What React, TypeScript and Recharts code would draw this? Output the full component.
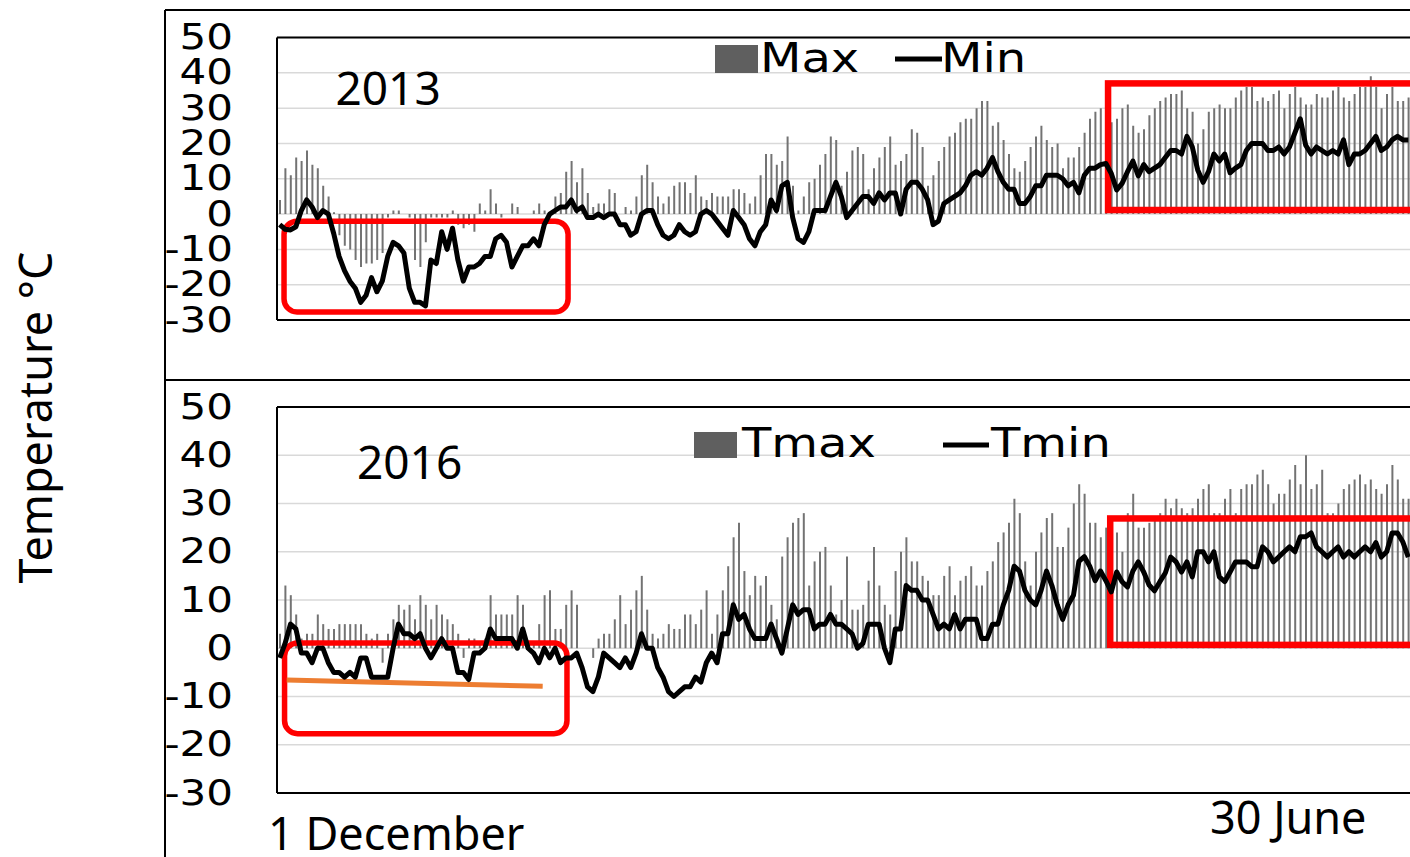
import React from 'react';
import { ComposedChart, Bar, Line, XAxis, YAxis, CartesianGrid, ReferenceLine, ReferenceArea } from 'recharts';

// Daily values from 1 December (index 0) onward
const max2013 = [
  4, 13, 11, 16, 15, 18, 14, 13, 8, 5,
  0.5, -6, -9, -10, -13, -15, -14, -14, -13, -11,
  -1, 1, 1, 0, -1, -13, -15, -8, -1, -1,
  -1, -1, 1, -3, -4, -3, -5, 3, 1, 7,
  3, -1, 0, 3, 2, 0, 0, 1, 3, 1,
  0.5, 5, 6, 12, 15, 9, 13, 6, 2, 3,
  3, 7, 6, 0, 2, 1, 5, 11, 14, 9,
  5, 3, 5, 8, 9, 9, 6, 11, 5, 4,
  6, 5, 5, 5, 7, 7, 6, 3, 5, 11,
  17, 17, 14, 15, 22, 8, 1, 5, 9, 10,
  14, 17, 22, 21, 8, 12, 18, 19, 17, 7,
  13, 16, 19, 22, 14, 15, 17, 24, 23, 19,
  8, 11, 15, 19, 22, 23, 26, 27, 27, 30,
  32, 32, 25, 26, 21, 17, 13, 12, 15, 19,
  22, 25, 21, 19, 20, 13, 16, 16, 19, 23,
  27, 29, 30, 30, 26, 27, 30, 31, 25, 23,
  24, 28, 30, 32, 33, 34, 34, 35, 30, 29,
  20, 24, 29, 30, 31, 30, 30, 33, 35, 36,
  36, 32, 33, 32, 34, 35, 30, 34, 36, 33,
  31, 31, 34, 33, 33, 35, 36, 33, 32, 34,
  36, 36, 39, 36, 30, 34, 36, 32, 32, 33,
];

const min2013 = [
  -3, -4.3, -4.5, -3.6, 1, 4, 2, -1, 1, 0,
  -5.5, -12, -16, -19, -21, -25, -23, -18, -22, -19,
  -12, -8, -9, -11, -21, -25, -25, -26, -13, -14,
  -5, -10, -4, -13, -19, -15, -15, -14, -12, -12,
  -7, -6, -8, -15, -12, -9, -9, -7, -9, -3,
  0, 1, 2, 2, 4, 1, 2, -1, -1, 0,
  -1, 0, 0, -3, -3, -6, -5, 0, 1, 1,
  -3, -6, -7, -6, -3, -5, -6, -5, 0, 1,
  0, -2, -4, -6, 1, -1, -3, -7, -9, -5,
  -3, 4, 1, 8, 9, -1, -7, -8, -5, 1,
  1, 1, 5, 9, 5, -1, 1, 3, 5, 5,
  3, 6, 4, 6, 6, 0, 7, 9, 9, 7,
  4, -3, -2, 3, 4, 5, 6, 8, 11, 12,
  11, 13, 16, 12, 9, 7, 7, 3, 3, 5,
  8, 8, 11, 11, 11, 10, 8, 9, 6, 11,
  13, 13, 14, 14.3, 11.5, 6.8, 8.7, 12, 15, 10.8,
  14, 12, 13, 14, 16, 18, 18, 17, 22, 19,
  12.5, 9, 12, 17, 15, 17, 11.7, 13, 14, 18,
  20, 20, 20, 18, 18, 19, 17, 19, 23, 27,
  19.5, 17, 19, 18, 17, 18, 17, 21, 14, 17,
  17, 18, 20, 22, 18, 19, 21, 22, 21, 21,
];

const tmax2016 = [
  3, 13, 11, 7, 2, 3, 3, 7, 5, 4,
  4, 5, 5, 5, 5, 5, 3, 2, 3, -3,
  3, 6, 9, 8, 9, 6, 11, 9, 6, 9,
  7, 6, 5, 3, -2, 2, 2, 1, 2, 11,
  7, 7, 7, 7, 11, 9, 1, 1, 5, 11,
  12, 4, 4, 9, 12, 9, 0, 0, -2, 2,
  3, 3, 6, 11, 5, 8, 12, 15, 8, 3,
  2, 3, 5, 4, 4, 7, 7, 5, 8, 12,
  3, 7, 12, 17, 23, 26, 16, 11, 15, 13,
  15, 9, 6, 19, 23, 26, 27, 28, 13, 18,
  20, 21, 13, 7, 10, 19, 8, 8, 9, 14,
  21, 13, 9, 7, 16, 20, 23, 18, 18, 15,
  14, 11, 11, 15, 17, 11, 14, 15, 17, 13,
  13, 16, 18, 22, 24, 26, 31, 28, 18, 13,
  20, 24, 27, 28, 21, 21, 25, 30, 34, 32,
  26, 26, 23, 25, 24, 24, 20, 28, 32, 25,
  25, 26, 27, 28, 31, 29, 31, 29, 28, 29,
  31, 33, 34, 28, 28, 31, 33, 28, 33, 34,
  34, 36, 37, 34, 30, 32, 32, 35, 38, 34,
  40, 33, 34, 37, 28, 28, 30, 33, 34, 35,
  36, 34, 35, 33, 32, 34, 38, 35, 31, 31,
];

const tmin2016 = [
  -2, 1, 5, 4, -1, -1, -3, 0, 0, -3,
  -5, -5, -6, -5, -6, -2, -2, -6, -6, -6,
  -6, 0, 5, 3, 3, 2, 3, 0, -2, 0,
  2, 0, 0, -5, -5, -6.5, -1, -1, 0, 4,
  2, 2, 2, 2, 0, 4, 0, -1, -3, 0,
  -2, 0, -3, -2, -2, -1, -4, -8, -9, -6,
  -1, -2, -3, -4, -2, -4, -1, 3, 0, 0,
  -4, -6, -9, -10, -9, -8, -8, -6, -7, -3,
  -1, -3, 3, 3, 9, 6, 7, 4, 2, 2,
  2, 5, 2, -1, 4, 9, 7, 8, 8, 4,
  5, 5, 7, 5, 5, 4, 3, 0, 1, 5,
  5, 5, 0, -3, 4, 4, 13, 12, 12, 10,
  10, 7, 4, 5, 4, 7, 4, 6, 6, 6,
  2, 2, 5, 5, 9, 12, 17, 16, 12, 10,
  9, 12, 16, 13, 9, 6, 9, 11, 18, 19,
  17, 14, 16, 14, 11.7, 15.8, 13.8, 12.7, 16, 17.9,
  15.8, 13.1, 11.9, 13.8, 15.6, 18.9, 17.9, 15.8, 17.9, 14.8,
  20, 20, 17.9, 20, 14.8, 13.8, 15.8, 17.9, 17.9, 17.9,
  16.9, 16.9, 21, 20, 17.9, 18.9, 20, 21, 20, 23.1,
  23.1, 23.9, 21, 20, 18.9, 20, 21, 18.9, 20, 18.9,
  20, 21, 20, 21.9, 18.9, 20, 23.9, 23.9, 22, 18.9,
];

const yTicks = [50, 40, 30, 20, 10, 0, -10, -20, -30];
const legend2013 = ['Max', 'Min'];
const legend2016 = ['Tmax', 'Tmin'];
const yearLabels = ['2013', '2016'];
const xLabels = ['1 December', '30 June'];
const yTitle = 'Temperature °C';

// Annotation boxes (data units: day index, °C)
const boxes2013 = [
  { x1: 0.8, x2: 53.4, y1: -27.7, y2: -2, r: 13, w: 5.5 },
  { x1: 153.4, x2: 215, y1: 1.15, y2: 37, r: 0, w: 6.5 },
];
const boxes2016 = [
  { x1: 0.9, x2: 53.2, y1: -17.7, y2: 1.1, r: 13, w: 5.5 },
  { x1: 153.8, x2: 215, y1: 0.7, y2: 26.9, r: 0, w: 6.5 },
];
const trend2016 = [
  { x: 1.3, y: -6.6 },
  { x: 48.7, y: -7.9 },
];

const rows2013 = max2013.map((v, i) => ({ day: i, hi: v, lo: min2013[i] }));
const rows2016 = tmax2016.map((v, i) => ({ day: i, hi: v, lo: tmin2016[i] }));

const TICK_FONT = "'DejaVu Sans', Verdana, sans-serif";
const TEXT_FONT = "'Noto Sans', 'Open Sans', sans-serif";

const YTick = (props: any) => {
  const { x, y, payload } = props;
  return (
    <text
      x={0}
      y={0}
      transform={`translate(${x},${y}) scale(1.2,1)`}
      textAnchor="end"
      dy="0.33em"
      fontFamily={TICK_FONT}
      fontSize={35}
      fill="#000"
    >
      {String(payload.value)}
    </text>
  );
};

const boxShape = (r: number, w: number) => (p: any) => (
  <rect
    x={p.x}
    y={p.y}
    width={p.width}
    height={p.height}
    rx={r}
    ry={r}
    fill="none"
    stroke="#ff0000"
    strokeWidth={w}
  />
);

type PanelProps = {
  data: any[];
  height: number;
  top: number;
  bottom: number;
  boxes: any[];
  trend?: any[];
};

const Panel = ({ data, height, top, bottom, boxes, trend }: PanelProps) => (
  <ComposedChart
    width={1460}
    height={height}
    data={data}
    margin={{ top, right: 16.6, bottom, left: 0 }}
  >
    <CartesianGrid vertical={false} stroke="#d9d9d9" strokeWidth={1.5} />
    <XAxis type="number" dataKey="day" domain={[-0.5, 215.5]} hide allowDataOverflow />
    <YAxis
      type="number"
      domain={[-30, 50]}
      ticks={yTicks}
      interval={0}
      width={277}
      tickSize={0}
      tickMargin={44}
      tickLine={false}
      axisLine={{ stroke: '#000', strokeWidth: 2 }}
      tick={<YTick />}
      allowDataOverflow
    />
    <ReferenceLine y={50} stroke="#000" strokeWidth={2} />
    <ReferenceLine y={-30} stroke="#000" strokeWidth={2} />
    <Bar dataKey="hi" barSize={2} fill="#737373" isAnimationActive={false} />
    {boxes.map((b, i) => (
      <ReferenceArea
        key={i}
        x1={b.x1}
        x2={b.x2}
        y1={b.y1}
        y2={b.y2}
        zIndex={350}
        shape={boxShape(b.r, b.w)}
      />
    ))}
    {trend ? (
      <ReferenceLine segment={trend} stroke="#ED7D31" strokeWidth={5} zIndex={360} />
    ) : null}
    <Line
      type="linear"
      dataKey="lo"
      stroke="#000"
      strokeWidth={5}
      strokeLinejoin="round"
      dot={false}
      activeDot={false}
      isAnimationActive={false}
    />
  </ComposedChart>
);

const LegendText = ({ x, y, children }: any) => (
  <text
    x={0}
    y={0}
    transform={`translate(${x},${y}) scale(1.2,1)`}
    fontFamily={TICK_FONT}
    fontSize={40}
    fill="#000"
  >
    {children}
  </text>
);

export default function App() {
  return (
    <div
      style={{
        position: 'fixed',
        left: 0,
        top: 0,
        width: 1410,
        height: 857,
        overflow: 'hidden',
        background: '#fff',
      }}
    >
      <div style={{ position: 'absolute', left: 0, top: 0 }}>
        <Panel data={rows2013} height={345} top={37.5} bottom={25} boxes={boxes2013} />
      </div>
      <div style={{ position: 'absolute', left: 0, top: 380 }}>
        <Panel data={rows2016} height={477} top={27} bottom={64} boxes={boxes2016} trend={trend2016} />
      </div>
      <svg
        width={1410}
        height={857}
        style={{ position: 'absolute', left: 0, top: 0, pointerEvents: 'none' }}
      >
        <line x1={165} y1={10} x2={1410} y2={10} stroke="#000" strokeWidth={2} />
        <line x1={165} y1={10} x2={165} y2={857} stroke="#000" strokeWidth={2} />
        <line x1={165} y1={380} x2={1410} y2={380} stroke="#000" strokeWidth={2} />

        <text
          transform="translate(52,417.5) rotate(-90)"
          textAnchor="middle"
          fontFamily={TEXT_FONT}
          fontSize={45}
          fill="#000"
        >
          {yTitle}
        </text>

        <text x={335.5} y={105} fontFamily={TEXT_FONT} fontSize={46} fill="#000">
          {yearLabels[0]}
        </text>
        <text x={357} y={479} fontFamily={TEXT_FONT} fontSize={46} fill="#000">
          {yearLabels[1]}
        </text>

        <rect x={715} y={45} width={43} height={28} fill="#5f5f5f" />
        <LegendText x={760} y={71.5}>{legend2013[0]}</LegendText>
        <line x1={895} y1={59} x2={942} y2={59} stroke="#000" strokeWidth={5} />
        <LegendText x={941} y={71.5}>{legend2013[1]}</LegendText>

        <rect x={694} y={432} width={43} height={26} fill="#5f5f5f" />
        <LegendText x={742} y={457}>{legend2016[0]}</LegendText>
        <line x1={943} y1={445} x2={989} y2={445} stroke="#000" strokeWidth={5} />
        <LegendText x={991} y={457}>{legend2016[1]}</LegendText>

        <text x={268} y={850} fontFamily={TEXT_FONT} fontSize={45} fill="#000">
          {xLabels[0]}
        </text>
        <text x={1210} y={834} fontFamily={TEXT_FONT} fontSize={45} fill="#000">
          {xLabels[1]}
        </text>
      </svg>
    </div>
  );
}
